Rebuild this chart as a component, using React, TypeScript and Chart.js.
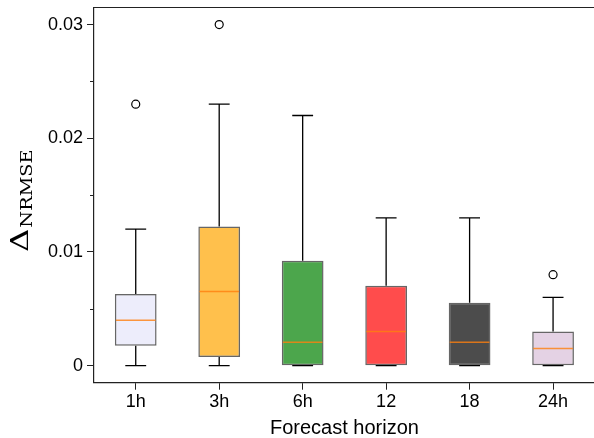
import React, { useEffect, useRef } from "react";
import { Chart, registerables } from "chart.js";

Chart.register(...registerables);

const categories = ["1h", "3h", "6h", "12", "18", "24h"];
const whiskerLow = [0, 0, 0, 0, 0, 0];
const q1 = [0.00176, 0.00076, 0, 0, 0, 0];
const medians = [0.004, 0.00653, 0.00205, 0.003, 0.00205, 0.0015];
const q3 = [0.0063, 0.01224, 0.00922, 0.00702, 0.00553, 0.003];
const whiskerHigh = [0.012, 0.023, 0.022, 0.013, 0.013, 0.006];
const outlierCats = ["1h", "3h", "24h"];
const outlierValues = [0.023, 0.03, 0.008];
const boxColors = [
  "rgba(230,230,250,0.7)",
  "rgba(255,165,0,0.7)",
  "rgba(0,128,0,0.7)",
  "rgba(255,0,0,0.7)",
  "rgba(0,0,0,0.7)",
  "rgba(216,191,216,0.7)",
];
const majorTicks = [0, 0.01, 0.02, 0.03];
const minorTicks = [0.005, 0.015, 0.025];

const SPINE = "#222";

const boxPlugin = {
  id: "boxExtras",
  afterDatasetsDraw(chart: any) {
    const ctx = chart.ctx;
    const x = chart.scales.x;
    const y = chart.scales.y;
    const meta = chart.getDatasetMeta(0);
    ctx.save();
    categories.forEach((c, i) => {
      const bar = meta.data[i];
      const cx = x.getPixelForValue(i);
      const half = bar.width / 2;
      const capHalf = half / 2;
      ctx.strokeStyle = "#000";
      ctx.lineWidth = 1.3;
      ctx.beginPath();
      ctx.moveTo(cx, y.getPixelForValue(q3[i]));
      ctx.lineTo(cx, y.getPixelForValue(whiskerHigh[i]));
      ctx.moveTo(cx - capHalf, y.getPixelForValue(whiskerHigh[i]));
      ctx.lineTo(cx + capHalf, y.getPixelForValue(whiskerHigh[i]));
      ctx.moveTo(cx, y.getPixelForValue(q1[i]));
      ctx.lineTo(cx, y.getPixelForValue(whiskerLow[i]));
      ctx.moveTo(cx - capHalf, y.getPixelForValue(whiskerLow[i]));
      ctx.lineTo(cx + capHalf, y.getPixelForValue(whiskerLow[i]));
      ctx.stroke();
      ctx.strokeStyle = "rgba(255,127,14,0.8)";
      ctx.lineWidth = 1.5;
      ctx.beginPath();
      const my = y.getPixelForValue(medians[i]);
      ctx.moveTo(cx - half + 1, my);
      ctx.lineTo(cx + half - 1, my);
      ctx.stroke();
    });
    const area = chart.chartArea;
    ctx.strokeStyle = SPINE;
    ctx.lineWidth = 1;
    ctx.beginPath();
    minorTicks.forEach((v) => {
      const py = Math.round(y.getPixelForValue(v)) + 0.5;
      ctx.moveTo(area.left - 4, py);
      ctx.lineTo(area.left, py);
    });
    ctx.stroke();
    ctx.lineWidth = 1.2;
    ctx.beginPath();
    ctx.moveTo(area.left, area.top);
    ctx.lineTo(area.right, area.top);
    ctx.lineTo(area.right, area.bottom);
    ctx.stroke();
    // y-axis title: Delta_NRMSE rotated
    const midY = (area.top + area.bottom) / 2;
    ctx.translate(28, midY + 57);
    ctx.rotate(-Math.PI / 2);
    ctx.fillStyle = "#000";
    ctx.textBaseline = "alphabetic";
    ctx.textAlign = "left";
    ctx.save();
    ctx.scale(1.3, 1);
    ctx.font = "25px 'DejaVu Serif'";
    ctx.fillText("Δ", 0, 0);
    const dw = ctx.measureText("Δ").width * 1.3;
    ctx.restore();
    ctx.save();
    ctx.translate(dw + 1, 4);
    ctx.scale(1.2, 1);
    ctx.font = "16px 'DejaVu Serif'";
    ctx.fillText("NRMSE", 0, 0);
    ctx.restore();
    ctx.restore();
  },
};

export default function App() {
  const ref = useRef<HTMLCanvasElement>(null);
  useEffect(() => {
    if (!ref.current) return;
    const chart = new Chart(ref.current, {
      type: "bar",
      data: {
        labels: categories,
        datasets: [
          {
            type: "bar",
            data: categories.map((_, i) => [q1[i], q3[i]]) as any,
            backgroundColor: boxColors,
            borderColor: "rgba(0,0,0,0.6)",
            borderWidth: 1.5,
            borderSkipped: false,
            barPercentage: 0.5,
            categoryPercentage: 1,
          },
          {
            type: "scatter",
            data: outlierCats.map((c, i) => ({ x: c, y: outlierValues[i] })) as any,
            pointStyle: "circle",
            pointRadius: 4,
            pointBorderWidth: 1.2,
            pointBorderColor: "#000",
            pointBackgroundColor: "rgba(0,0,0,0)",
          } as any,
        ],
      },
      options: {
        responsive: false,
        animation: false,
        devicePixelRatio: 1,
        layout: { padding: { left: 0, right: 1, top: 7.5, bottom: 0 } },
        plugins: { legend: { display: false }, tooltip: { enabled: false } },
        scales: {
          x: {
            type: "category",
            offset: true,
            afterFit: (s: any) => {
              s.height = 55.3;
              s.paddingLeft = 0;
              s.paddingRight = 0;
            },
            grid: { drawOnChartArea: false, drawTicks: true, tickLength: 7, color: SPINE, offset: false },
            border: { display: true, color: SPINE, width: 1.2 },
            ticks: { color: "#000", padding: 2, font: { family: "'Liberation Sans', Arial", size: 18 } },
            title: {
              display: true,
              text: "Forecast horizon",
              color: "#000",
              padding: { top: 0, bottom: 0 },
              font: { family: "'Liberation Sans', Arial", size: 20, lineHeight: 1 },
            },
          },
          y: {
            type: "linear",
            min: -0.0015,
            max: 0.0315,
            afterFit: (s: any) => {
              s.width = 94;
              s.paddingTop = 0;
              s.paddingBottom = 0;
            },
            afterBuildTicks: (s: any) => {
              s.ticks = majorTicks.map((v) => ({ value: v }));
            },
            grid: { drawOnChartArea: false, drawTicks: true, tickLength: 7, color: SPINE },
            border: { display: true, color: SPINE, width: 1.2 },
            ticks: {
              color: "#000",
              padding: 4,
              font: { family: "'Liberation Sans', Arial", size: 18 },
              callback: (v: any) => (Number(v) === 0 ? "0" : Number(v).toFixed(2)),
            },
          },
        },
      },
      plugins: [boxPlugin],
    });
    return () => chart.destroy();
  }, []);
  return (
    <div style={{ position: "fixed", left: 0, top: 0, width: 594, height: 438, overflow: "hidden", background: "#fff" }}>
      <canvas ref={ref} width={600} height={438} style={{ display: "block" }} />
    </div>
  );
}
